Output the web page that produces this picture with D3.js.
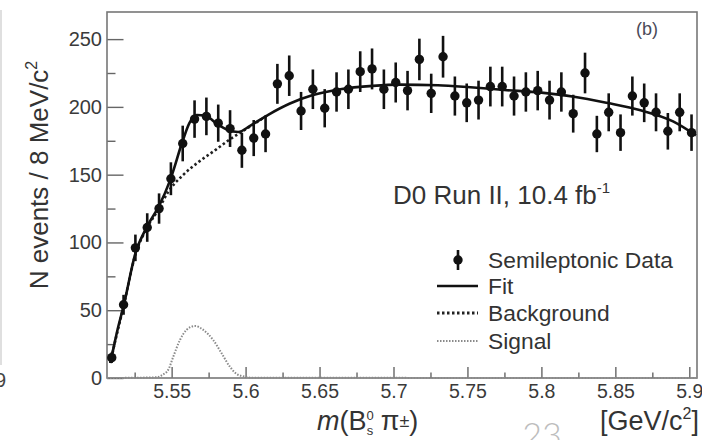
<html>
<head>
<title>Bs pi mass spectrum</title>
<script src="https://d3js.org/d3.v7.min.js"></script>
<style>
body { margin: 0; background: #fff; }
svg { display: block; font-family: 'Liberation Sans', Arial, sans-serif; }
.tick text { fill: #3a3a3a; }
</style>
</head>
<body>
<svg width="702" height="440"></svg>

<script>
// bin centres, GeV/c^2 (8 MeV bins)
var binMass = [5.5095, 5.5175, 5.5255, 5.5335, 5.5415, 5.5495, 5.5575, 5.5655, 5.5735, 5.5815,
               5.5895, 5.5975, 5.6055, 5.6135, 5.6215, 5.6295, 5.6375, 5.6455, 5.6535, 5.6615,
               5.6695, 5.6775, 5.6855, 5.6935, 5.7015, 5.7095, 5.7175, 5.7255, 5.7335, 5.7415,
               5.7495, 5.7575, 5.7655, 5.7735, 5.7815, 5.7895, 5.7975, 5.8055, 5.8135, 5.8215,
               5.8295, 5.8375, 5.8455, 5.8535, 5.8615, 5.8695, 5.8775, 5.8855, 5.8935, 5.9015];
var binCounts = [15, 54, 96, 111, 125, 147, 173, 191, 193, 188,
                 184, 168, 177, 180, 217, 223, 197, 213, 199, 211,
                 213, 226, 228, 213, 218, 212, 235, 210, 237, 208,
                 203, 205, 215, 215, 208, 211, 212, 205, 211, 195,
                 225, 180, 196, 181, 208, 203, 196, 182, 196, 181];

// curves
var fitMass = [5.5085, 5.5095, 5.5135, 5.5175, 5.5255, 5.5335, 5.5415, 5.549, 5.5575, 5.562,
               5.567, 5.573, 5.580, 5.588, 5.595, 5.603, 5.615, 5.630, 5.645, 5.664,
               5.686, 5.704, 5.730, 5.752, 5.775, 5.800, 5.822, 5.844, 5.867, 5.889, 5.9045];
var fitCounts = [11, 16, 36, 53, 92, 112, 127, 146, 175, 188,
                 194, 193.5, 188, 183, 181.5, 186, 194, 202.5, 208.5, 213,
                 215.5, 216.4, 216, 214.5, 212.5, 210.5, 207.5, 203, 197.5, 189.3, 179];
var bgMass = [5.5085, 5.5095, 5.5175, 5.5255, 5.5335, 5.5415, 5.5475, 5.558, 5.569, 5.580,
              5.588, 5.595, 5.603, 5.615];
var bgCounts = [11, 16, 53, 91, 111, 125, 137, 150, 160, 168.5,
                175, 180, 185.5, 194];
var sigMass = [5.5063, 5.540, 5.544, 5.5477, 5.5511, 5.5556, 5.5601, 5.5658, 5.5714, 5.5781,
               5.5838, 5.5894, 5.5939, 5.5996, 5.6035, 5.9052];
var sigCounts = [0, 0.5, 2.5, 6, 15.7, 28, 35.5, 38.4, 35.5, 28,
                 18.2, 8.3, 3, 1, 0.2, 0];

var xMajor = [5.55, 5.6, 5.65, 5.7, 5.75, 5.8, 5.85, 5.9];
var xMinor = [5.525, 5.575, 5.625, 5.675, 5.725, 5.775, 5.825, 5.875];
var yMajor = [0, 50, 100, 150, 200, 250];
var yMinor = [25, 75, 125, 175, 225];

var legendItems = ["Semileptonic Data", "Fit", "Background", "Signal"];

var svg = d3.select("svg");
var L = 107, R = 697, T = 12, B = 378;

var x = d3.scaleLinear().domain([5.5063, 5.9052]).range([L, R]);
var y = d3.scaleLinear().domain([0, 270]).range([B, T]);

// slide leftovers
svg.append("line").attr("x1", 1).attr("x2", 1).attr("y1", 10).attr("y2", 365)
   .attr("stroke", "#d4d4d4").attr("stroke-width", 1.5);
svg.append("text").attr("x", -5).attr("y", 387).attr("font-size", 20).attr("fill", "#444").text("9");
svg.append("text").attr("x", 542).attr("y", 447).attr("text-anchor", "middle")
   .attr("font-family", "Lato, sans-serif").attr("font-weight", 300)
   .attr("font-size", 34).attr("fill", "#bdbdbd").text("23");

// axes (ticks inward)
var xAxis = svg.append("g").attr("transform", "translate(0," + B + ")")
   .call(d3.axisBottom(x).tickValues(xMajor).tickSize(-11).tickPadding(7)
         .tickFormat(function (d) { return d3.format("")(+d.toFixed(3)); }));
xAxis.selectAll(".tick text").attr("font-size", 19.5).attr("dy", "0.71em").attr("y", 6);
svg.append("g").attr("transform", "translate(0," + B + ")")
   .call(d3.axisBottom(x).tickValues(xMinor).tickSize(-5.5).tickFormat(""));

var yAxis = svg.append("g").attr("transform", "translate(" + L + ",0)")
   .call(d3.axisLeft(y).tickValues(yMajor).tickSize(-16.5).tickPadding(5));
yAxis.selectAll(".tick text").attr("font-size", 20);
svg.append("g").attr("transform", "translate(" + L + ",0)")
   .call(d3.axisLeft(y).tickValues(yMinor).tickSize(-8.5).tickFormat(""));

svg.selectAll(".domain").remove();
svg.selectAll(".tick line").attr("stroke", "#666").attr("stroke-width", 1.4);

svg.append("rect").attr("x", L).attr("y", T).attr("width", R - L).attr("height", B - T)
   .attr("fill", "none").attr("stroke", "#777").attr("stroke-width", 1.6);

// curves
var line = d3.line()
   .x(function (d) { return x(d[0]); })
   .y(function (d) { return y(d[1]); })
   .curve(d3.curveMonotoneX);

svg.append("path").datum(d3.zip(sigMass, sigCounts)).attr("d", line)
   .attr("fill", "none").attr("stroke", "#8a8a8a").attr("stroke-width", 2)
   .attr("stroke-dasharray", "1.5,1.5");
svg.append("path").datum(d3.zip(bgMass, bgCounts)).attr("d", line)
   .attr("fill", "none").attr("stroke", "#222").attr("stroke-width", 2.6)
   .attr("stroke-dasharray", "2.5,2.5");
svg.append("path").datum(d3.zip(fitMass, fitCounts)).attr("d", line)
   .attr("fill", "none").attr("stroke", "#111").attr("stroke-width", 2.6);

// data with poisson errors
var pts = svg.append("g").selectAll("g").data(d3.zip(binMass, binCounts)).enter().append("g");
pts.append("line")
   .attr("x1", function (d) { return x(d[0]); })
   .attr("x2", function (d) { return x(d[0]); })
   .attr("y1", function (d) { return y(d[1] - Math.sqrt(d[1])); })
   .attr("y2", function (d) { return y(d[1] + Math.sqrt(d[1])); })
   .attr("stroke", "#111").attr("stroke-width", 2.6);
pts.append("circle")
   .attr("cx", function (d) { return x(d[0]); })
   .attr("cy", function (d) { return y(d[1]); })
   .attr("r", 4.7).attr("fill", "#111");

// labels
svg.append("text").attr("x", 647).attr("y", 35).attr("text-anchor", "middle")
   .attr("font-size", 18).attr("fill", "#4a4a58").text("(b)");

var d0 = svg.append("text").attr("x", 393).attr("y", 204).attr("font-size", 26).attr("fill", "#333");
d0.append("tspan").text("D0 Run II, 10.4 fb");
d0.append("tspan").attr("font-size", 15).attr("dy", -11).text("-1");

var yt = svg.append("text").attr("transform", "translate(48,175) rotate(-90)")
   .attr("text-anchor", "middle").attr("font-size", 26).attr("fill", "#333");
yt.append("tspan").text("N events / 8 MeV/c");
yt.append("tspan").attr("font-size", 16).attr("dy", -11).text("2");

var xt = svg.append("text").attr("x", 317).attr("y", 430).attr("font-size", 27).attr("fill", "#333");
xt.append("tspan").attr("font-style", "italic").text("m");
xt.append("tspan").text("(B");
xt.append("tspan").attr("font-size", 13).attr("dy", -10).text("0");
xt.append("tspan").attr("font-size", 13).attr("dx", -7).attr("dy", 15).text("s");
xt.append("tspan").attr("font-size", 27).attr("dy", -5).text(" \u03c0");
xt.append("tspan").attr("font-size", 18).attr("dy", -3).text("\u00b1");
xt.append("tspan").attr("font-size", 27).attr("dy", 3).text(")");

var ut = svg.append("text").attr("x", 699).attr("y", 430).attr("text-anchor", "end")
   .attr("font-size", 27).attr("fill", "#333");
ut.append("tspan").text("[GeV/c");
ut.append("tspan").attr("font-size", 16).attr("dy", -11).text("2");
ut.append("tspan").attr("dy", 11).text("]");

// legend
var lg = svg.append("g");
var rowY = [260, 286, 313, 341];
lg.selectAll("text").data(legendItems).enter().append("text")
   .attr("x", 488).attr("y", function (d, i) { return rowY[i] + 8; })
   .attr("font-size", 22.8).attr("fill", "#333").text(function (d) { return d; });
lg.append("line").attr("x1", 458).attr("x2", 458).attr("y1", 250).attr("y2", 270)
   .attr("stroke", "#111").attr("stroke-width", 2.6);
lg.append("circle").attr("cx", 458).attr("cy", 260).attr("r", 4.7).attr("fill", "#111");
lg.append("line").attr("x1", 437).attr("x2", 478).attr("y1", rowY[1]).attr("y2", rowY[1])
   .attr("stroke", "#111").attr("stroke-width", 2.6);
lg.append("line").attr("x1", 437).attr("x2", 478).attr("y1", rowY[2]).attr("y2", rowY[2])
   .attr("stroke", "#222").attr("stroke-width", 3).attr("stroke-dasharray", "2.5,2.5");
lg.append("line").attr("x1", 437).attr("x2", 478).attr("y1", rowY[3]).attr("y2", rowY[3])
   .attr("stroke", "#8a8a8a").attr("stroke-width", 2).attr("stroke-dasharray", "1.5,1.5");
</script>
</body>
</html>
